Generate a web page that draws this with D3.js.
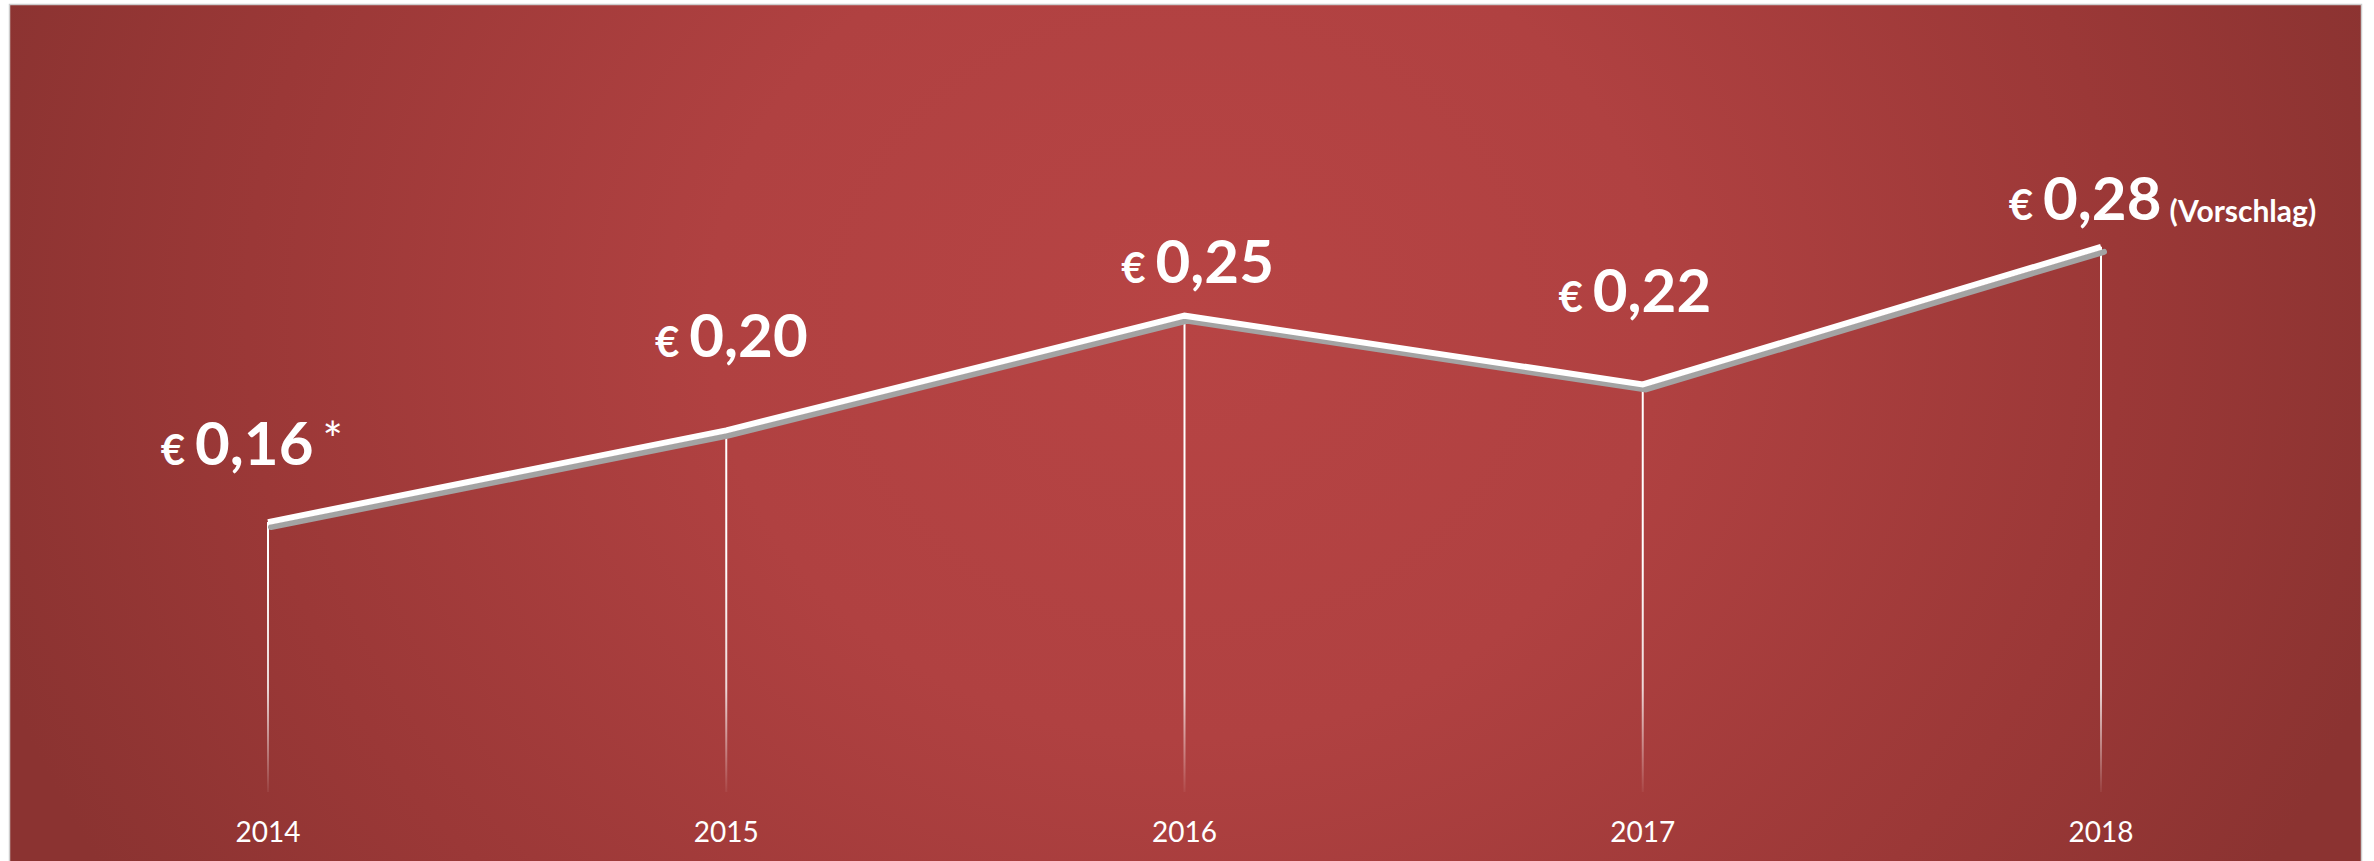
<!DOCTYPE html>
<html>
<head>
<meta charset="utf-8">
<script src="https://cdn.jsdelivr.net/npm/d3@7"></script>
<style>
  html, body { margin: 0; padding: 0; background: #ffffff; }
  svg { display: block; }
  text { font-family: Lato, "Open Sans", sans-serif; fill: #ffffff; }
</style>
</head>
<body>
<svg id="chart" width="2374" height="861"></svg>
<script>
// Dividend per share, by year
const years = [2014, 2015, 2016, 2017, 2018];
const dividends = [0.16, 0.20, 0.25, 0.22, 0.28];
const suffixes = ["*", "", "", "", "(Vorschlag)"];
const yearLabels = ["2014", "2015", "2016", "2017", "2018"];

// Hand placement of the value callouts: [number start dx, baseline dy] from the point
const labelNudge = [[-73, -57], [-37, -73], [-29, -33], [-50, -72], [-58, -27]];

const W = 2374, H = 861;
const svg = d3.select("#chart");
const defs = svg.append("defs");

// Panel background: wide elliptical red glow, brightest near the middle
const bg = defs.append("radialGradient")
  .attr("id", "bgGrad")
  .attr("gradientUnits", "userSpaceOnUse")
  .attr("cx", 0).attr("cy", 0).attr("r", 1)
  .attr("gradientTransform", "translate(1185,320) scale(1250,1100)");
bg.append("stop").attr("offset", "0%").attr("stop-color", "#b74444");
bg.append("stop").attr("offset", "38%").attr("stop-color", "#b04141");
bg.append("stop").attr("offset", "75%").attr("stop-color", "#9b3837");
bg.append("stop").attr("offset", "100%").attr("stop-color", "#8b3331");

// Stems fade out towards the bottom
const stemGrad = defs.append("linearGradient")
  .attr("id", "stemGrad")
  .attr("gradientUnits", "userSpaceOnUse")
  .attr("x1", 0).attr("y1", 560).attr("x2", 0).attr("y2", 792);
stemGrad.append("stop").attr("offset", "0%").attr("stop-color", "#ffffff").attr("stop-opacity", 1);
stemGrad.append("stop").attr("offset", "55%").attr("stop-color", "#ffffff").attr("stop-opacity", 0.8);
stemGrad.append("stop").attr("offset", "100%").attr("stop-color", "#ffffff").attr("stop-opacity", 0.05);

svg.append("rect")
  .attr("x", 9.5).attr("y", 4.5)
  .attr("width", 2352).attr("height", 880)
  .attr("fill", "url(#bgGrad)")
  .attr("stroke", "#cdcdcd")
  .attr("stroke-width", 1.5);

const x = d3.scalePoint()
  .domain(years)
  .range([268, 2101])
  .padding(0);

const y = d3.scaleLinear()
  .domain([0, 0.3])
  .range([889, 201]);

const euro = d3.formatLocale({
  decimal: ",", thousands: ".", grouping: [3], currency: ["€", ""]
});
const fmt = euro.format(".2f");

const data = years.map((yr, i) => ({
  year: yr, value: dividends[i], suffix: suffixes[i], label: yearLabels[i], nudge: labelNudge[i]
}));

const stemBottom = 792;

// Vertical stems from each point
svg.append("g")
  .selectAll("line")
  .data(data)
  .join("line")
  .attr("x1", d => x(d.year)).attr("x2", d => x(d.year))
  .attr("y1", d => y(d.value)).attr("y2", stemBottom)
  .attr("stroke", "url(#stemGrad)")
  .attr("stroke-width", 2);

const line = d3.line()
  .x(d => x(d.year))
  .y(d => y(d.value));

// Drop shadow under the line
svg.append("path")
  .datum(data)
  .attr("d", line)
  .attr("transform", "translate(3,5)")
  .attr("fill", "none")
  .attr("stroke", "#a3a3a3")
  .attr("stroke-width", 6)
  .attr("stroke-linecap", "round");

svg.append("path")
  .datum(data)
  .attr("d", line)
  .attr("fill", "none")
  .attr("stroke", "#ffffff")
  .attr("stroke-width", 6)
  .attr("stroke-linejoin", "miter");

// Value callouts
const labels = svg.append("g").selectAll("g")
  .data(data)
  .join("g")
  .attr("transform", d => `translate(${x(d.year) + d.nudge[0]},${y(d.value) + d.nudge[1]})`);

labels.append("text")
  .attr("x", -10)
  .attr("text-anchor", "end")
  .attr("font-size", 42)
  .attr("font-weight", 700)
  .text("€");

const num = labels.append("text")
  .attr("x", 0)
  .attr("text-anchor", "start");

num.append("tspan")
  .attr("font-size", 60)
  .attr("font-weight", 700)
  .text(d => fmt(d.value));

num.filter(d => d.suffix === "*").append("tspan")
  .attr("dx", 9)
  .attr("dy", -8)
  .attr("font-size", 48)
  .attr("font-weight", 400)
  .text(d => d.suffix);

num.filter(d => d.suffix && d.suffix !== "*").append("tspan")
  .attr("dx", 8)
  .attr("dy", 2)
  .attr("font-size", 30)
  .attr("font-weight", 700)
  .text(d => d.suffix);

// Year axis labels
svg.append("g")
  .selectAll("text")
  .data(data)
  .join("text")
  .attr("x", d => x(d.year))
  .attr("y", 842)
  .attr("text-anchor", "middle")
  .attr("font-size", 28)
  .attr("font-weight", 400)
  .text(d => d.label);
</script>
</body>
</html>
